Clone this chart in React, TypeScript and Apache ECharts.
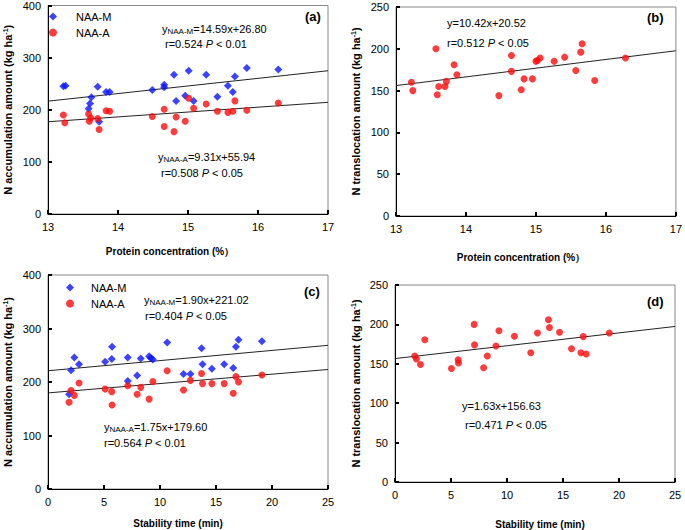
import React, { useEffect, useRef } from "react";
import * as echarts from "echarts";

const FONT = "'Liberation Sans', Arial, sans-serif";

// Panel (a): N accumulation vs protein concentration
const aProteinM = [13.22, 13.25, 13.62, 13.6, 13.58, 13.71, 13.73, 13.83, 13.88, 14.49, 14.66, 14.66, 14.8, 14.83, 15.01, 14.96, 15.08, 15.26, 15.42, 15.57, 15.67, 15.64, 15.84, 16.29];
const aNaaM = [245, 246, 224, 212, 202, 244, 177, 234, 234, 238, 248, 243, 267, 217, 275, 227, 217, 267, 225, 246, 264, 234, 280, 277];
const aProteinA = [13.22, 13.24, 13.58, 13.61, 13.59, 13.71, 13.73, 13.83, 13.88, 14.49, 14.66, 14.66, 14.8, 14.83, 14.96, 15.01, 15.08, 15.26, 15.42, 15.57, 15.64, 15.67, 15.84, 16.29];
const aNaaA = [190, 175, 192, 184, 178, 183, 162, 198, 197, 187, 201, 168, 158, 186, 178, 222, 203, 211, 197, 195, 197, 217, 199, 213];

// Panel (b): N translocation vs protein concentration
const bProtein = [13.22, 13.24, 13.57, 13.59, 13.61, 13.7, 13.72, 13.83, 13.87, 14.47, 14.65, 14.65, 14.79, 14.83, 14.95, 15.0, 15.02, 15.06, 15.26, 15.41, 15.57, 15.64, 15.66, 15.84, 16.28];
const bTrans = [160, 150, 200, 145, 155, 155, 161, 181, 169, 144, 192, 173, 151, 164, 164, 185, 186, 189, 185, 190, 174, 196, 206, 162, 189];

// Panel (c): N accumulation vs stability time
const cStabM = [1.88, 2.06, 2.35, 2.77, 5.1, 5.69, 5.72, 7.12, 7.12, 7.96, 8.28, 9.03, 9.18, 9.36, 10.64, 12.1, 12.72, 13.71, 13.8, 14.63, 15.73, 16.54, 16.78, 17.01, 19.1];
const cNaaM = [177, 222, 246, 233, 238, 243, 266, 246, 202, 212, 244, 248, 245, 242, 274, 215, 215, 263, 233, 225, 233, 226, 266, 279, 276];
const cStabA = [1.88, 2.06, 2.35, 2.77, 5.1, 5.69, 5.72, 7.12, 7.96, 8.28, 9.03, 9.36, 10.64, 12.1, 12.72, 13.71, 13.8, 14.63, 15.73, 16.54, 16.78, 17.01, 19.1];
const cNaaA = [162, 184, 175, 198, 187, 182, 157, 193, 177, 190, 168, 201, 221, 185, 203, 216, 197, 197, 197, 179, 210, 200, 213];

// Panel (d): N translocation vs stability time
const dStab = [1.76, 1.91, 2.27, 2.66, 5.04, 5.64, 5.67, 7.07, 7.1, 7.91, 8.24, 9.01, 9.28, 10.66, 12.12, 12.72, 13.7, 13.79, 14.69, 15.76, 16.6, 16.81, 17.07, 19.13];
const dTrans = [160, 156, 149, 180.5, 144, 155, 151, 200, 174, 145, 160, 172.5, 192, 185, 164, 189, 206, 196, 190, 169, 164, 184.5, 162.5, 189];

// Regression equations as printed on the chart: [slope, intercept]
const fitA_M = [14.59, 26.8];
const fitA_A = [9.31, 55.94];
const fitB = [10.42, 20.52];
const fitC_M = [1.9, 221.02];
const fitC_A = [1.75, 179.6];
const fitD = [1.63, 156.63];

const proteinRange = [13, 17];
const stabRange = [0, 25];

const zip = (xs: number[], ys: number[]) => xs.map((x, i) => [x, ys[i]]);
const fitLine = (f: number[], r: number[]) => r.map((x) => [x, f[0] * x + f[1]]);

const BLUE = "#0a14ff";
const RED = "#ff0a0a";

export default function App() {
  const ref = useRef<HTMLDivElement>(null);
  useEffect(() => {
    if (!ref.current) return;
    const chart = echarts.init(ref.current, undefined, { renderer: "svg" });

    const axisLine = { show: true, lineStyle: { color: "#000", width: 1 } };
    const axisTick = { show: true, inside: true, length: 4, lineStyle: { color: "#000", width: 2 } };
    const axisLabel = { color: "#000", fontSize: 11, fontFamily: FONT, margin: 7 };
    const yName = (t: string) => `{n|${t} (kg ha}{sup|-1}{n|)}`;
    const nameRich = {
      n: { fontSize: 11, fontWeight: "bold", fontFamily: FONT, color: "#000" },
      sup: { fontSize: 7, fontWeight: "bold", fontFamily: FONT, color: "#000", verticalAlign: "top", padding: [0, 0, 5, 0] },
    };
    const xNameStyle = { fontSize: 10, fontWeight: "bold", fontFamily: FONT, color: "#000" };

    const mkX = (gi: number, r: number[], interval: number, name: string, gap: number, pad: number[]) => ({
      type: "value", gridIndex: gi, min: r[0], max: r[1], interval,
      axisLine, axisTick, axisLabel, splitLine: { show: false },
      name, nameLocation: "middle", nameGap: gap, nameTextStyle: { ...xNameStyle, padding: pad },
    });
    const mkY = (gi: number, max: number, interval: number, name: string, gap: number) => ({
      type: "value", gridIndex: gi, min: 0, max, interval,
      axisLine, axisTick, axisLabel, splitLine: { show: false },
      name, nameLocation: "middle", nameGap: gap, nameTextStyle: { rich: nameRich },
    });

    const grid = (left: number, top: number, width: number, height: number) => ({
      left, top, width, height, show: true, borderColor: "#888", borderWidth: 1, backgroundColor: "transparent",
    });

    const scatterM = (xi: number, data: number[][]) => ({
      type: "scatter", name: "NAA-M", xAxisIndex: xi, yAxisIndex: xi, data,
      symbol: "diamond", symbolSize: 8, itemStyle: { color: BLUE }, z: 3,
    });
    const scatterA = (xi: number, data: number[][], name = "NAA-A") => ({
      type: "scatter", name, xAxisIndex: xi, yAxisIndex: xi, data,
      symbol: "circle", symbolSize: 7, itemStyle: { color: RED }, z: 3,
    });
    const line = (xi: number, data: number[][]) => ({
      type: "line", xAxisIndex: xi, yAxisIndex: xi, data, showSymbol: false, symbol: "none",
      lineStyle: { color: "#222", width: 1 }, z: 2, silent: true,
    });

    const txt = (left: number, top: number, text: string, extra: any = {}) => ({
      type: "text", left, top, silent: true,
      style: {
        text, fill: "#000", font: `11px ${FONT}`,
        rich: {
          a: { fontSize: 11, fontFamily: FONT, fill: "#000", color: "#000" },
          i: { fontSize: 11, fontFamily: FONT, fontStyle: "italic", color: "#000" },
          sub: { fontSize: 8, fontFamily: FONT, color: "#000", verticalAlign: "bottom", padding: [5, 0, 0, 0] },
        },
        ...extra,
      },
    });
    const panelLabel = (left: number, top: number, t: string) => ({
      type: "text", left, top, silent: true,
      style: { text: t, fill: "#000", font: `bold 13px ${FONT}` },
    });

    const legend = (left: number, top: number, pad: number) => ({
      data: [
        { name: "NAA-M", icon: "diamond" },
        { name: "NAA-A", icon: "circle" },
      ],
      left, top, orient: "vertical", itemGap: 3,
      itemWidth: 8, itemHeight: 8, selectedMode: false, padding: 0,
      textStyle: { fontSize: 11, fontFamily: FONT, color: "#000", padding: [0, 0, 0, pad], lineHeight: 13 },
    });

    chart.setOption({
      animation: false,
      textStyle: { fontFamily: FONT },
      grid: [grid(48, 5, 280, 209), grid(396, 7, 280, 209), grid(48, 275, 280, 214), grid(395, 285, 280, 209)],
      legend: [legend(49, 10, 14), legend(66, 281, 12)],
      xAxis: [
        mkX(0, proteinRange, 1, "Protein concentration (%\uFF09", 32, [0, 36, 0, 0]),
        mkX(1, proteinRange, 1, "Protein concentration (%\uFF09", 36, [0, 30, 0, 0]),
        mkX(2, stabRange, 5, "Stability time (min)", 29, [0, 20, 0, 0]),
        mkX(3, stabRange, 5, "Stability time (min)", 37, [0, 0, 0, 10]),
      ],
      yAxis: [
        mkY(0, 400, 100, yName("N accumulation amount"), 34),
        mkY(1, 250, 50, yName("N translocation amount"), 34),
        mkY(2, 400, 100, yName("N accumulation amount"), 34),
        mkY(3, 250, 50, yName("N translocation amount"), 33),
      ],
      series: [
        scatterM(0, zip(aProteinM, aNaaM)),
        scatterA(0, zip(aProteinA, aNaaA)),
        line(0, fitLine(fitA_M, proteinRange)),
        line(0, fitLine(fitA_A, proteinRange)),
        scatterA(1, zip(bProtein, bTrans), "N translocation (b)"),
        line(1, fitLine(fitB, proteinRange)),
        scatterM(2, zip(cStabM, cNaaM)),
        scatterA(2, zip(cStabA, cNaaA)),
        line(2, fitLine(fitC_M, stabRange)),
        line(2, fitLine(fitC_A, stabRange)),
        scatterA(3, zip(dStab, dTrans), "N translocation (d)"),
        line(3, fitLine(fitD, stabRange)),
      ],
      graphic: [
        txt(162, 23, "{a|y}{sub|NAA-M}{a|=14.59x+26.80}"),
        txt(165, 38, "{a|r=0.524 }{i|P}{a| < 0.01}"),
        txt(158, 151, "{a|y}{sub|NAA-A}{a|=9.31x+55.94}"),
        txt(161, 167, "{a|r=0.508 }{i|P}{a| < 0.05}"),
        panelLabel(305, 10, "(a)"),
        txt(447, 17, "{a|y=10.42x+20.52}"),
        txt(447, 37, "{a|r=0.512 }{i|P}{a| < 0.05}"),
        panelLabel(647, 11, "(b)"),
        txt(144, 294, "{a|y}{sub|NAA-M}{a|=1.90x+221.02}"),
        txt(145, 310, "{a|r=0.404 }{i|P}{a| < 0.05}"),
        txt(104, 421, "{a|y}{sub|NAA-A}{a|=1.75x+179.60}"),
        txt(104, 437, "{a|r=0.564 }{i|P}{a| < 0.01}"),
        panelLabel(304, 285, "(c)"),
        txt(462, 400, "{a|y=1.63x+156.63}"),
        txt(465, 419, "{a|r=0.471 }{i|P}{a| < 0.05}"),
        panelLabel(647, 295, "(d)"),
      ],
    });
    return () => chart.dispose();
  }, []);
  return <div ref={ref} style={{ position: "fixed", left: 0, top: 0, width: 685, height: 530, background: "#fff" }} />;
}
